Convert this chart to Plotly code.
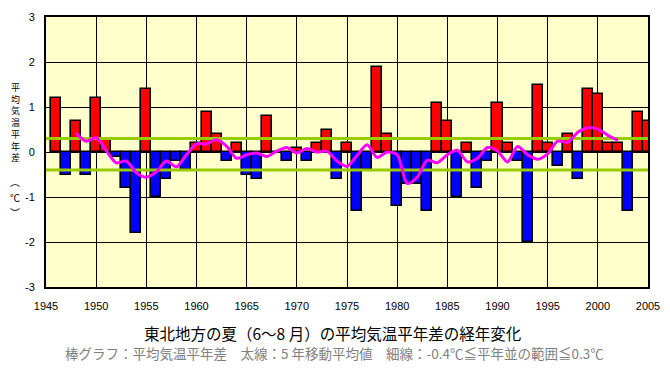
import plotly.graph_objects as go

# ---- data ----
years = list(range(1946, 2006))
anomaly = [1.2, -0.5, 0.7, -0.5, 1.2, 0.3, -0.1, -0.8, -1.8, 1.4,
           -1.0, -0.6, -0.2, -0.4, 0.2, 0.9, 0.4, -0.2, 0.2, -0.5,
           -0.6, 0.8, 0.0, -0.2, 0.1, -0.2, 0.2, 0.5, -0.6, 0.2,
           -1.3, -0.4, 1.9, 0.4, -1.2, -0.7, -0.7, -1.3, 1.1, 0.7,
           -1.0, 0.2, -0.8, -0.2, 1.1, 0.2, -0.2, -2.0, 1.5, 0.2,
           -0.3, 0.4, -0.6, 1.4, 1.3, 0.2, 0.2, -1.3, 0.9, 0.7]

ma_years = list(range(1948, 2003))
ma_values = [0.42, 0.24, 0.32, 0.03, -0.24, -0.2, -0.46, -0.56, -0.44, -0.2,
             -0.33, -0.06, 0.18, 0.18, 0.27, 0.13, -0.14, -0.06, -0.02, -0.1,
             0.02, 0.1, -0.02, 0.08, 0.0, 0.02, -0.2, -0.32, -0.08, 0.16,
             -0.12, 0.0, -0.06, -0.7, -0.56, -0.18, -0.24, -0.06, 0.04, -0.22,
             -0.14, 0.1, 0.02, -0.22, 0.12, -0.06, -0.16, -0.04, 0.24, 0.22,
             0.44, 0.54, 0.51, 0.37, 0.26]

normal_upper = 0.3
normal_lower = -0.4
x_span = [1945, 2005]

x_ticks = list(range(1945, 2006, 5))
y_ticks = [-3, -2, -1, 0, 1, 2, 3]
y_ticklabels = ["-3", "-2", "-1", "0", "1", "2", "3"]

title_text = "東北地方の夏（6～8 月）の平均気温平年差の経年変化"
subtitle_text = "棒グラフ：平均気温平年差　太線：5 年移動平均値　細線：-0.4℃≦平年並の範囲≦0.3℃"
ytitle_main = ["平", "均", "気", "温", "平", "年", "差"]
ytitle_unit = ["︵", "℃", "︶"]

# plot-area pixel frame (used only to place annotations)
L, R, T, B = 46, 648, 17, 287

def px(xp):
    return (xp - L) / (R - L)

def py(yp):
    return (B - yp) / (B - T)

# ---- figure ----
bar_colors = ["#FF0000" if v >= 0 else "#0000FF" for v in anomaly]

fig = go.Figure()
fig.add_trace(go.Bar(x=years, y=anomaly, marker=dict(color=bar_colors,
                     line=dict(color="black", width=1.6)), width=1.0,
                     showlegend=False, hoverinfo="x+y"))
for lvl in (normal_upper, normal_lower):
    fig.add_trace(go.Scatter(x=x_span, y=[lvl, lvl], mode="lines",
                             line=dict(color="#99CC00", width=3), showlegend=False))
fig.add_trace(go.Scatter(x=ma_years, y=ma_values, mode="lines",
                         line=dict(color="#FF00FF", width=3, shape="spline", smoothing=0.8),
                         showlegend=False))

fig.update_layout(
    width=670, height=370,
    margin=dict(l=L, r=670 - R, t=T, b=370 - B, autoexpand=False),
    paper_bgcolor="white", plot_bgcolor="#FFFFCC",
    bargap=0,
    font=dict(family="Arial, Liberation Sans, sans-serif", size=11, color="black"),
)
fig.update_xaxes(range=x_span, tickvals=x_ticks, ticks="", showgrid=True,
                 gridcolor="black", gridwidth=1, showline=True, linecolor="black",
                 linewidth=2, mirror=True, zeroline=False, ticklabelstandoff=8,
                 automargin=False, tickfont=dict(size=11))
fig.update_yaxes(range=[-3, 3], tickvals=y_ticks, ticktext=y_ticklabels, ticks="",
                 showgrid=True, gridcolor="black", gridwidth=1, showline=True,
                 linecolor="black", linewidth=2, mirror=True, zeroline=False,
                 ticklabelstandoff=7, automargin=False, tickfont=dict(size=11))

# vertical y-axis title (stacked glyphs)
fig.add_annotation(text="<br>".join(ytitle_main), x=px(15), y=py(122.5),
                   xref="paper", yref="paper", showarrow=False,
                   xanchor="center", yanchor="middle",
                   font=dict(family="Noto Sans CJK JP", size=9, color="black"))
for ch, yy in zip(ytitle_unit, [181, 197, 213]):
    fig.add_annotation(text=ch, x=px(15), y=py(yy), xref="paper", yref="paper",
                       showarrow=False, xanchor="center", yanchor="middle", borderpad=0,
                       font=dict(family="Noto Sans CJK JP", size=10, color="black"))

fig.add_annotation(text=title_text, x=px(332), y=py(333), xref="paper", yref="paper",
                   showarrow=False, xanchor="center", yanchor="middle",
                   font=dict(family="Noto Sans CJK JP", size=15.5, color="black"))
fig.add_annotation(text=subtitle_text, x=px(334), y=py(353), xref="paper", yref="paper",
                   showarrow=False, xanchor="center", yanchor="middle",
                   font=dict(family="Noto Sans CJK JP", size=13.5, color="#808080"))

fig.write_html("out.html", config={"displayModeBar": False},
               post_script="document.body.style.margin='0';")
